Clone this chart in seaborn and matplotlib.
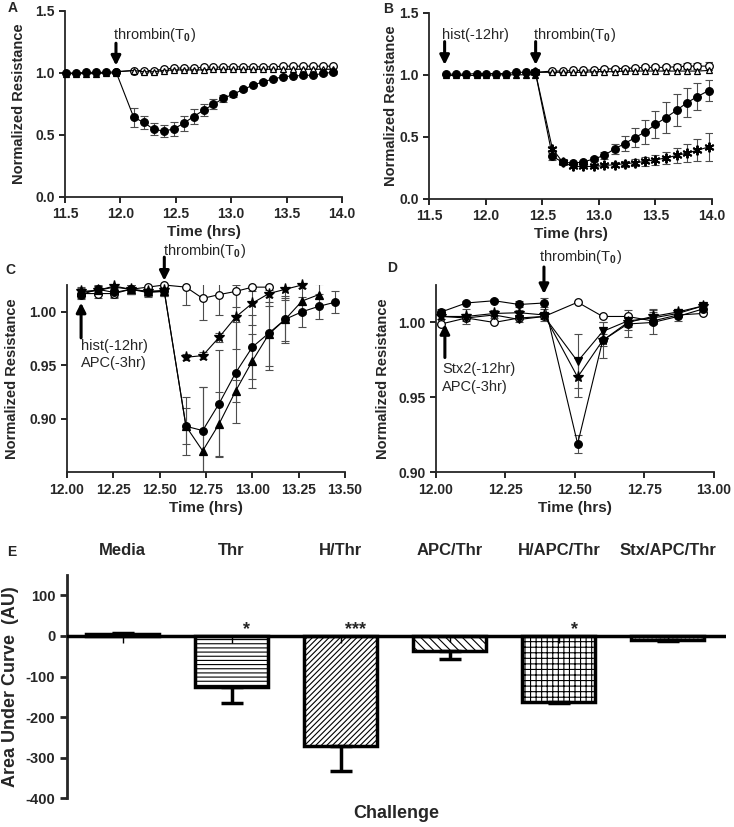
import matplotlib
matplotlib.use('Agg')
import matplotlib.pyplot as plt
import seaborn as sns

# ---------------- panel A : thrombin only ----------------
a_pre_t = [11.51, 11.60, 11.69, 11.78, 11.87, 11.96]
a_pre_circ = [1.00, 1.00, 1.005, 1.005, 1.005, 1.01]
a_pre_tri = [0.995, 0.995, 0.995, 0.995, 1.0, 1.0]
a_t = [12.12, 12.21, 12.30, 12.39, 12.48, 12.57, 12.66, 12.75, 12.84, 12.93, 13.02,
       13.11, 13.20, 13.29, 13.38, 13.47, 13.56, 13.65, 13.74, 13.83, 13.92]
a_thr = [0.643, 0.602, 0.546, 0.532, 0.548, 0.594, 0.648, 0.700, 0.747, 0.796, 0.830,
         0.868, 0.903, 0.930, 0.952, 0.970, 0.976, 0.980, 0.983, 0.997, 1.005]
a_thr_err = [0.075, 0.055, 0.05, 0.05, 0.055, 0.06, 0.06, 0.05, 0.04, 0.03, 0.02,
             0.015, 0.01, 0.01, 0.01, 0.01, 0.01, 0.01, 0.01, 0.01, 0.01]
a_media = [1.02, 1.02, 1.02, 1.03, 1.04, 1.04, 1.04, 1.045, 1.045, 1.05, 1.05,
           1.05, 1.05, 1.05, 1.05, 1.055, 1.055, 1.055, 1.055, 1.055, 1.055]
a_tri = [1.02, 1.01, 1.01, 1.02, 1.025, 1.025, 1.025, 1.025, 1.03, 1.03, 1.03,
         1.03, 1.03, 1.03, 1.03, 1.03, 1.03, 1.03, 1.03, 1.03, 1.03]

# ---------------- panel B : histones + thrombin ----------------
b_pre_t = [11.65, 11.74, 11.83, 11.92, 12.00, 12.09, 12.18, 12.27, 12.36, 12.44]
b_pre_circ = [1.005, 1.005, 1.005, 1.01, 1.01, 1.01, 1.01, 1.02, 1.02, 1.02]
b_pre_tri = [0.995, 0.995, 0.995, 0.995, 0.995, 1.0, 1.0, 1.0, 1.0, 1.0]
b_t = [12.59, 12.68, 12.77, 12.86, 12.96, 13.05, 13.14, 13.23, 13.32, 13.41,
       13.50, 13.59, 13.69, 13.78, 13.87, 13.97]
b_thr = [0.343, 0.297, 0.289, 0.297, 0.324, 0.351, 0.405, 0.446, 0.495, 0.540,
         0.600, 0.654, 0.716, 0.776, 0.824, 0.873]
b_thr_err = [0.03, 0.01, 0.01, 0.01, 0.015, 0.03, 0.04, 0.06, 0.08, 0.095,
             0.11, 0.125, 0.13, 0.115, 0.11, 0.085]
b_hist = [0.405, 0.297, 0.262, 0.262, 0.262, 0.270, 0.276, 0.284, 0.292, 0.303,
          0.316, 0.330, 0.351, 0.370, 0.392, 0.419]
b_hist_err = [0.01, 0.01, 0.01, 0.01, 0.01, 0.015, 0.02, 0.025, 0.03, 0.035,
              0.04, 0.05, 0.06, 0.07, 0.09, 0.11]
b_media = [1.03, 1.03, 1.035, 1.035, 1.04, 1.045, 1.05, 1.05, 1.055, 1.06,
           1.06, 1.06, 1.065, 1.07, 1.07, 1.07]
b_media_err = [0.005, 0.005, 0.005, 0.005, 0.005, 0.01, 0.01, 0.01, 0.01, 0.015,
               0.015, 0.02, 0.02, 0.025, 0.025, 0.03]
b_tri = [1.02, 1.02, 1.02, 1.02, 1.025, 1.025, 1.025, 1.03, 1.03, 1.03,
         1.03, 1.03, 1.03, 1.03, 1.03, 1.035]

# ---------------- panel C : histones + APC ----------------
c_pre_t = [12.076, 12.166, 12.255, 12.344, 12.435, 12.525]
c_t = [12.642, 12.732, 12.820, 12.910, 13.000, 13.089, 13.178, 13.268, 13.358, 13.448]
c_open_pre = [1.017, 1.017, 1.017, 1.021, 1.023, 1.025]
c_open = [1.023, 1.0125, 1.016, 1.019, 1.023, 1.023]
c_open_err = [0.017, 0.02, 0.019, 0.015, 0.004, 0.003]
c_circ_pre = [1.016, 1.021, 1.018, 1.021, 1.018, 1.019]
c_circ = [0.893, 0.889, 0.914, 0.943, 0.967, 0.980, 0.993, 1.000, 1.005, 1.009]
c_circ_err = [0.027, 0.041, 0.05, 0.047, 0.03, 0.034, 0.022, 0.014, 0.012, 0.01]
c_tri_pre = [1.018, 1.020, 1.023, 1.021, 1.019, 1.019]
c_tri = [0.893, 0.870, 0.895, 0.926, 0.954, 0.979, 0.993, 1.010, 1.016]
c_tri_err = [0.017, 0.06, 0.03, 0.01, 0.025, 0.03, 0.02, 0.012, 0.01]
c_star_pre = [1.019, 1.020, 1.024, 1.021, 1.019, 1.020]
c_star = [0.9575, 0.959, 0.976, 0.995, 1.008, 1.017, 1.021, 1.025]
c_star_err = [0.003, 0.003, 0.004, 0.03, 0.02, 0.012, 0.01, 0.003]
c_pre_err = [0.004, 0.004, 0.004, 0.004, 0.004, 0.004]

# ---------------- panel D : Stx2 + APC ----------------
d_t = [12.02, 12.11, 12.21, 12.30, 12.39, 12.51, 12.60, 12.69, 12.78, 12.87, 12.96]
d_circ = [1.007, 1.013, 1.0145, 1.012, 1.013, 0.919, 0.988, 0.999, 1.000, 1.004, 1.009]
d_circ_err = [0.002, 0.001, 0.001, 0.002, 0.003, 0.006, 0.004, 0.009, 0.008, 0.003, 0.002]
d_open = [0.999, 1.003, 1.000, 1.003, 1.004, 1.0135, 1.004, 1.004, 1.001, 1.005, 1.006]
d_down = [1.004, 1.003, 1.005, 1.002, 1.004, 0.974, 0.994, 1.001, 1.003, 1.006, 1.011]
d_down_err = [0.002, 0.002, 0.002, 0.002, 0.002, 0.018, 0.006, 0.004, 0.004, 0.002, 0.002]
d_star = [1.004, 1.004, 1.006, 1.0065, 1.005, 0.9635, 0.988, 1.000, 1.004, 1.007, 1.011]
d_star_err = [0.002, 0.005, 0.002, 0.002, 0.004, 0.013, 0.012, 0.005, 0.005, 0.002, 0.002]

# ---------------- panel E : area under curve ----------------
e_categories = ['Media', 'Thr', 'H/Thr', 'APC/Thr', 'H/APC/Thr', 'Stx/APC/Thr']
e_auc = [4, -127, -272, -37, -164, -10]
e_err = [4, 39, 60, 20, 2, 3]
e_stub = [-17, -17, -17, -15, -17, -8]
e_sig = ['', '*', '***', '', '*', '']
e_hatch = ['', '----', '//////', '\\\\\\\\', '+++', '....']

sns.set_style('ticks')
plt.rcParams['font.family'] = ['Liberation Sans', 'DejaVu Sans']
plt.rcParams['font.weight'] = 'bold'
plt.rcParams['axes.labelweight'] = 'bold'
plt.rcParams['axes.unicode_minus'] = False
plt.rcParams['mathtext.fontset'] = 'custom'
plt.rcParams['mathtext.rm'] = 'Liberation Sans'
plt.rcParams['hatch.linewidth'] = 0.8

W, H = 734, 827
fig = plt.figure(figsize=(W / 100, H / 100), dpi=100)


def px_axes(l, t, r, b):
    return fig.add_axes([l / W, 1 - b / H, (r - l) / W, (b - t) / H])


def draw(ax, t, v, err=None, marker='o', face='black', ms=5.5, mew=0.9):
    sns.lineplot(x=t, y=v, ax=ax, color='black', linewidth=0.8, marker=marker,
                 markersize=ms, markerfacecolor=face, markeredgecolor='black',
                 markeredgewidth=mew, estimator=None, sort=False, clip_on=False, zorder=3)
    if err is not None:
        ax.errorbar(t, v, yerr=err, fmt='none', ecolor='0.3', elinewidth=0.8,
                    capsize=3, capthick=0.8, zorder=2)


def style(ax, xlab='Time (hrs)'):
    sns.despine(ax=ax)
    for s in ['left', 'bottom']:
        ax.spines[s].set_linewidth(1.3)
    ax.tick_params(direction='out', length=4, width=1.2, labelsize=10, color='black')
    ax.set_ylabel('Normalized Resistance', fontsize=10.5, fontweight='bold')
    ax.set_xlabel(xlab, fontsize=11, fontweight='bold')


def bold_ticks(ax):
    for lbl in ax.get_xticklabels() + ax.get_yticklabels():
        lbl.set_fontweight('bold')


def arrow(ax, x, y0, y1):
    ax.annotate('', xy=(x, y1), xytext=(x, y0), annotation_clip=False,
                arrowprops=dict(arrowstyle='-|>', color='black', lw=2.2, mutation_scale=14,
                                shrinkA=0, shrinkB=0))


def note(ax, x, y, s):
    ax.text(x, y, s, fontsize=10.5, fontweight='normal', ha='left', va='center',
            linespacing=1.3, clip_on=False)


thr = 'thrombin(T$_0$)'
axes = []

# ---- A ----
ax = px_axes(65, 11, 342, 197)
axes.append(ax)
draw(ax, a_pre_t[-1:] + a_t, a_pre_circ[-1:] + a_media, marker='o', face='white')
draw(ax, a_pre_t[-1:] + a_t, a_pre_circ[-1:] + a_tri, marker='^', face='white', ms=5)
draw(ax, a_pre_t, a_pre_tri, marker='^', ms=5)
draw(ax, a_pre_t + a_t, a_pre_circ + a_thr, [0.005] * 6 + a_thr_err)
ax.set_xlim(11.5, 14.0)
ax.set_ylim(0, 1.5)
ax.set_xticks([11.5, 12.0, 12.5, 13.0, 13.5, 14.0])
ax.set_yticks([0.0, 0.5, 1.0, 1.5])
style(ax)
ax.yaxis.set_label_coords(-0.141, 0.5)
ax.xaxis.set_label_coords(0.5, -0.15)
arrow(ax, 11.96, 1.24, 1.06)
note(ax, 11.93, 1.31, thr)

# ---- B ----
ax = px_axes(429, 12.7, 712, 199)
axes.append(ax)
draw(ax, b_pre_t[-1:] + b_t, b_pre_circ[-1:] + b_media, [0.003] + b_media_err,
     marker='o', face='white')
draw(ax, b_pre_t[-1:] + b_t, b_pre_circ[-1:] + b_tri, marker='^', face='white', ms=5)
draw(ax, b_pre_t, b_pre_tri, marker='^', ms=5)
draw(ax, b_pre_t[-1:] + b_t, b_pre_circ[-1:] + b_hist, [0.003] + b_hist_err,
     marker=(6, 2, 0), ms=7, mew=1.4)
draw(ax, b_pre_t + b_t, b_pre_circ + b_thr, [0.005] * 10 + b_thr_err)
ax.set_xlim(11.5, 14.0)
ax.set_ylim(0, 1.5)
ax.set_xticks([11.5, 12.0, 12.5, 13.0, 13.5, 14.0])
ax.set_yticks([0.0, 0.5, 1.0, 1.5])
style(ax)
ax.yaxis.set_label_coords(-0.11, 0.5)
ax.xaxis.set_label_coords(0.5, -0.15)
arrow(ax, 11.638, 1.267, 1.08)
note(ax, 11.618, 1.32, 'hist(-12hr)')
arrow(ax, 12.442, 1.267, 1.08)
note(ax, 12.42, 1.32, thr)

# ---- C ----
ax = px_axes(67, 285, 345, 472.3)
axes.append(ax)
draw(ax, c_pre_t + c_t[:6], c_open_pre + c_open, c_pre_err + c_open_err, face='white')
draw(ax, c_pre_t + c_t[:9], c_tri_pre + c_tri, c_pre_err + c_tri_err, marker='^', ms=5.5)
draw(ax, c_pre_t, c_star_pre, c_pre_err, marker='*', ms=8)
draw(ax, c_t[:8], c_star, c_star_err, marker='*', ms=8)
draw(ax, c_pre_t + c_t, c_circ_pre + c_circ, c_pre_err + c_circ_err)
ax.set_xlim(12.0, 13.5)
ax.set_ylim(0.85, 1.025)
ax.set_xticks([12.0, 12.25, 12.5, 12.75, 13.0, 13.25, 13.5])
ax.set_yticks([0.90, 0.95, 1.00])
style(ax)
ax.yaxis.set_label_coords(-0.173, 0.5)
ax.xaxis.set_label_coords(0.5, -0.153)
arrow(ax, 12.525, 1.051, 1.029)
note(ax, 12.52, 1.057, thr)
arrow(ax, 12.076, 0.9756, 1.0085)
note(ax, 12.076, 0.960, 'hist(-12hr)\nAPC(-3hr)')

# ---- D ----
ax = px_axes(435.7, 285, 714, 472.3)
axes.append(ax)
draw(ax, d_t, d_open, face='white')
draw(ax, d_t, d_down, d_down_err, marker='v', ms=5.5)
draw(ax, d_t, d_star, d_star_err, marker='*', ms=8)
draw(ax, d_t, d_circ, d_circ_err)
ax.set_xlim(12.0, 13.0)
ax.set_ylim(0.90, 1.025)
ax.set_xticks([12.0, 12.25, 12.5, 12.75, 13.0])
ax.set_yticks([0.90, 0.95, 1.00])
style(ax)
ax.yaxis.set_label_coords(-0.164, 0.5)
ax.xaxis.set_label_coords(0.5, -0.153)
arrow(ax, 12.389, 1.037, 1.019)
note(ax, 12.37, 1.044, thr)
arrow(ax, 12.033, 0.9766, 0.9989)
note(ax, 12.024, 0.963, 'Stx2(-12hr)\nAPC(-3hr)')

# ---- E ----
ax = px_axes(67, 575, 725.7, 798.3)
axes.append(ax)
sns.barplot(x=e_categories, y=e_auc, ax=ax, color='white', saturation=1,
            edgecolor='black', linewidth=2.5, width=0.67, errorbar=None, zorder=2)
for patch, h in zip(ax.patches, e_hatch):
    patch.set_hatch(h)
pos = list(range(len(e_categories)))
lower = [e if v < 0 else 0 for v, e in zip(e_auc, e_err)]
upper = [e if v > 0 else 0 for v, e in zip(e_auc, e_err)]
ax.errorbar(pos, e_auc, yerr=[lower, upper], fmt='none', ecolor='black',
            elinewidth=2.5, capsize=8, capthick=2.5, zorder=3)
ax.vlines(pos, 0, e_stub, color='black', lw=1.0, zorder=3)
ax.axhline(0, color='black', lw=2.5, zorder=4)
for p, s in zip(pos, e_sig):
    ax.text(p + 0.14, 5, s, fontsize=13, fontweight='bold', ha='center', va='baseline')
ax.set_xlim(-0.51, 5.53)
ax.set_ylim(-400, 150)
ax.set_yticks([-400, -300, -200, -100, 0, 100])
sns.despine(ax=ax, bottom=True)
ax.spines['left'].set_linewidth(2)
ax.xaxis.tick_top()
ax.tick_params(axis='x', length=0, pad=12, labelsize=12)
ax.tick_params(axis='y', direction='out', length=5, width=2, labelsize=10.5)
ax.set_xlabel('Challenge', fontsize=13, fontweight='bold')
ax.xaxis.set_label_position('bottom')
ax.xaxis.set_label_coords(0.5, -0.03)
ax.set_ylabel('Area Under Curve  (AU)', fontsize=13, fontweight='bold')
ax.yaxis.set_label_coords(-0.073, 0.5)

for a in axes:
    bold_ticks(a)

# panel letters
for lab, x, y in [('A', 13, 8), ('B', 388, 9), ('C', 10, 270), ('D', 392, 268), ('E', 12, 552)]:
    fig.text(x / W, 1 - y / H, lab, fontsize=10, fontweight='bold', ha='center', va='center')

fig.savefig('out.png', dpi=100)
